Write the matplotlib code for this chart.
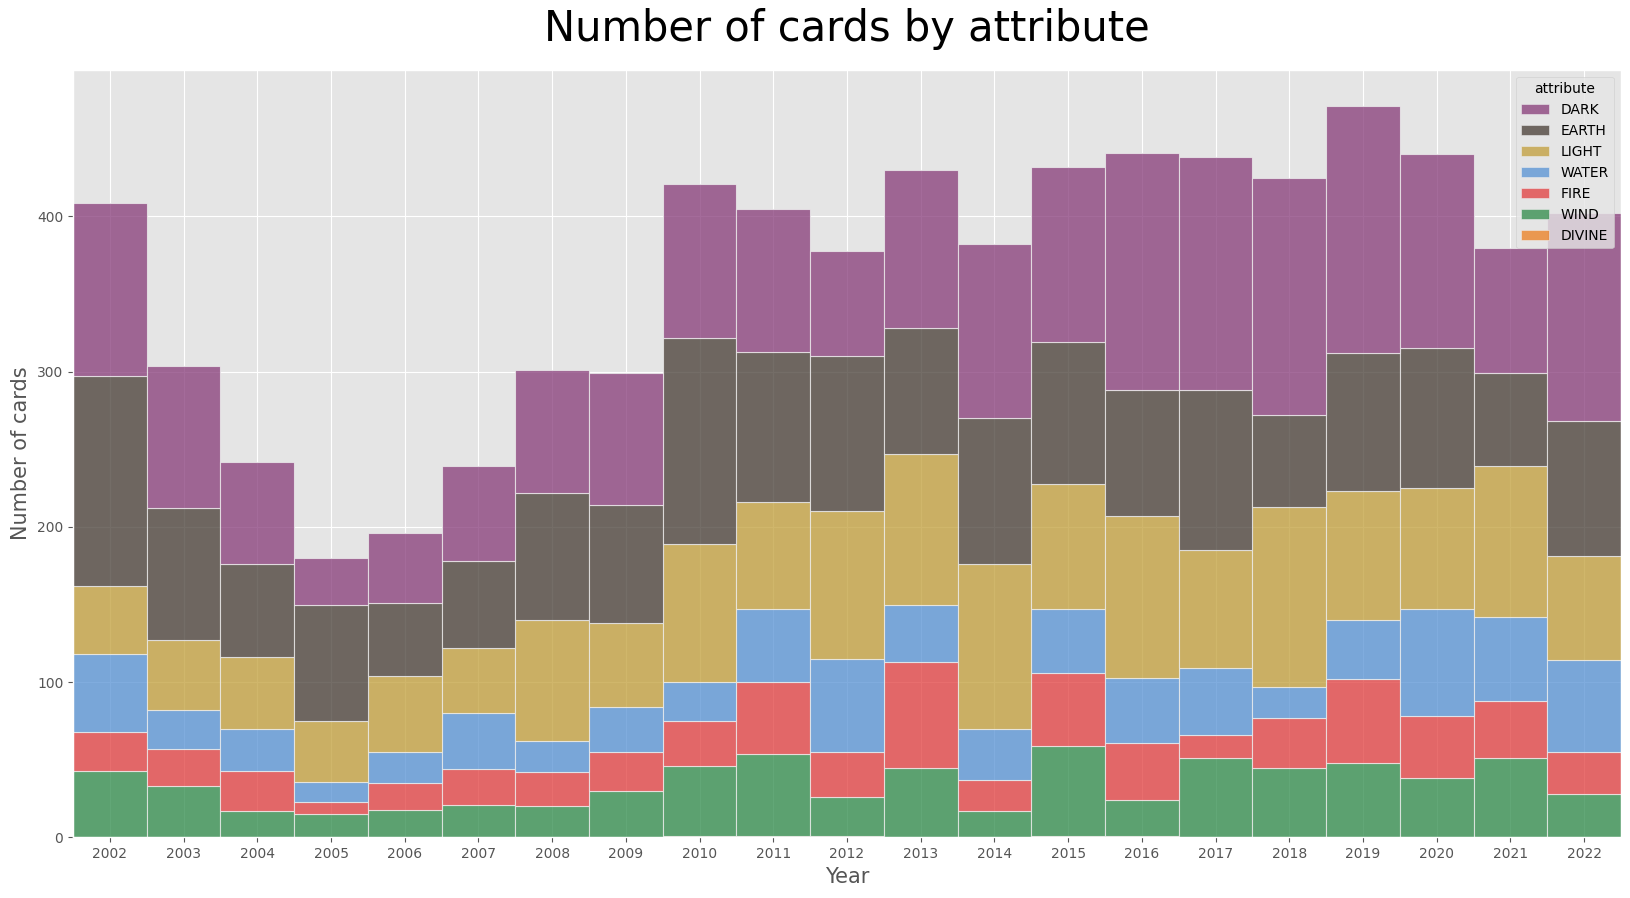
import numpy as np
import matplotlib
matplotlib.use('Agg')
import matplotlib.pyplot as plt
from matplotlib.patches import Patch

plt.style.use('ggplot')

# years on the x axis
years = list(range(2002, 2023))

# card counts per attribute and year
divine = [0, 0, 0, 0, 0, 0, 0, 0, 1, 1, 1, 0, 0, 1, 1, 0, 0, 0, 0, 0, 0]
wind = [43, 33, 17, 15, 18, 21, 20, 30, 45, 53, 25, 45, 17, 58, 23, 51, 45, 48, 38, 51, 28]
fire = [25, 24, 26, 8, 17, 23, 22, 25, 29, 46, 29, 68, 20, 47, 37, 15, 32, 54, 40, 37, 27]
water = [50, 25, 27, 13, 20, 36, 20, 29, 25, 47, 60, 37, 33, 41, 42, 43, 20, 38, 69, 54, 59]
light = [44, 45, 46, 39, 49, 42, 78, 54, 89, 69, 95, 97, 106, 81, 104, 76, 116, 83, 78, 97, 67]
earth = [135, 85, 60, 75, 47, 56, 82, 76, 133, 97, 100, 81, 94, 91, 81, 103, 59, 89, 90, 60, 87]
dark = [112, 92, 66, 30, 45, 61, 79, 85, 99, 92, 68, 102, 112, 113, 153, 150, 153, 159, 125, 81, 134]

# stacking order bottom -> top
attributes = ['DIVINE', 'WIND', 'FIRE', 'WATER', 'LIGHT', 'EARTH', 'DARK']
counts = [divine, wind, fire, water, light, earth, dark]
colors = {'DARK': '#863a78', 'EARTH': '#463c34', 'LIGHT': '#c19e39', 'WATER': '#5591d4',
          'FIRE': '#e13d3e', 'WIND': '#2e8a49', 'DIVINE': '#ec7e1e'}

fig = plt.figure(figsize=(16.31, 8.98), dpi=100)
ax = fig.add_axes([0.0448, 0.0674, 0.9491, 0.855])

bottom = np.zeros(len(years))
for name, vals in zip(attributes, counts):
    vals = np.array(vals, dtype=float)
    ax.bar(years, vals, width=1.0, bottom=bottom, color=colors[name], alpha=0.75,
           edgecolor='#EEEEEE', linewidth=0.8, label=name)
    bottom += vals

ax.set_xlim(2001.5, 2022.5)
ax.set_xticks(years)
ax.set_xticklabels([str(y) for y in years])
ax.set_yticks([0, 100, 200, 300, 400])
ax.set_xlabel('Year', fontsize=15)
ax.set_ylabel('Number of cards', fontsize=15)
ax.set_title('Number of cards by attribute', fontsize=30, pad=21)

handles = [Patch(facecolor=colors[a], alpha=0.75, edgecolor='#EEEEEE', label=a) for a in attributes[::-1]]
ax.legend(handles=handles, title='attribute', loc='upper right', fontsize=10)

fig.savefig('out.png', dpi=100)
